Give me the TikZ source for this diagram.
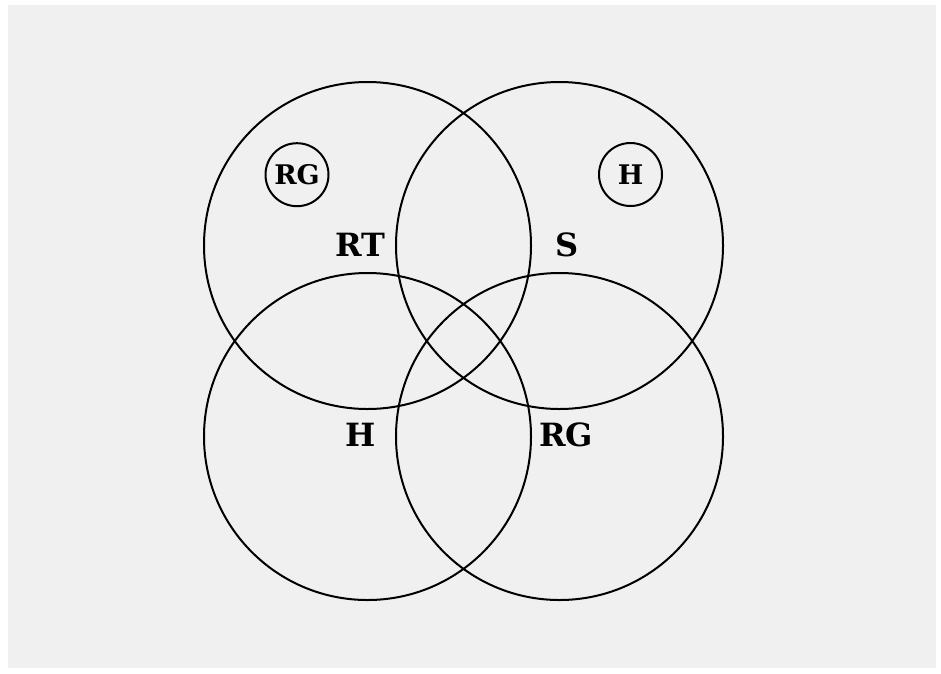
\documentclass[tikz,border=0pt]{standalone}
\usepackage{fontspec}
\setmainfont{DejaVu Serif}
\definecolor{bggray}{HTML}{F0F0F0}
\begin{document}
\begin{tikzpicture}[x=1pt,y=-1pt,
  venn/.style={draw=black,line width=2pt,circle,minimum size=327pt,inner sep=0pt},
  small/.style={draw=black,line width=2pt,circle,minimum size=63pt,inner sep=0pt,font=\fontsize{27}{27}\selectfont\bfseries},
  biglabel/.style={inner sep=0pt,anchor=base,font=\fontsize{32}{32}\selectfont\bfseries}]
\useasboundingbox (0,0) rectangle (941,673);
\fill[bggray] (8,5) rectangle (936,668);
\node[venn] (tl) at (367.5,245.5) {};
\node[venn] (tr) at (559.5,245.5) {};
\node[venn] (bl) at (367.5,436.5) {};
\node[venn] (br) at (559.5,436.5) {};
\node[small] (srg) at (297,174.7) {RG};
\node[small] (sh) at (630.5,174.5) {H};
\node[biglabel] (rt) at (360.7,256) {RT};
\node[biglabel] (s) at (566.7,256) {S};
\node[biglabel] (h) at (360.3,446.5) {H};
\node[biglabel] (rg) at (566,446.5) {RG};
\end{tikzpicture}
\end{document}
